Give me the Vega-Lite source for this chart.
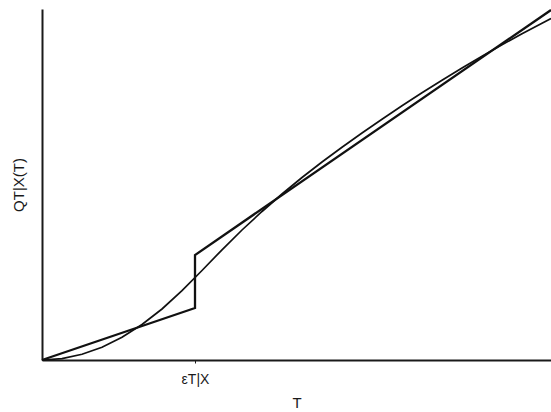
{
  "$schema": "https://vega.github.io/schema/vega-lite/v6.json",
  "width": 509,
  "height": 351,
  "autosize": {"type": "none"},
  "padding": {"left": 42, "top": 9, "right": 0, "bottom": 52},
  "background": "white",
  "config": {
    "view": {"stroke": null},
    "font": "Liberation Sans",
    "axis": {"grid": false, "domainColor": "#1a1a1a", "domainWidth": 2, "tickColor": "#1a1a1a", "labelColor": "#1a1a1a", "titleColor": "#1a1a1a", "titleFontWeight": "normal", "labelFont": "Liberation Sans", "titleFont": "Liberation Sans"}
  },
  "datasets": {
    "step": [
      {"i": 0, "t": 0, "q": 0},
      {"i": 1, "t": 153, "q": 52},
      {"i": 2, "t": 153, "q": 105},
      {"i": 3, "t": 509, "q": 350}
    ],
    "curve": [
      {"i": 0, "t": 0, "q": 0},
      {"i": 1, "t": 20, "q": 1.4},
      {"i": 2, "t": 40, "q": 5.7},
      {"i": 3, "t": 60, "q": 12.8},
      {"i": 4, "t": 80, "q": 22.7},
      {"i": 5, "t": 100, "q": 35.5},
      {"i": 6, "t": 120, "q": 51},
      {"i": 7, "t": 140, "q": 69.3},
      {"i": 8, "t": 160, "q": 89.5},
      {"i": 9, "t": 180, "q": 110.2},
      {"i": 10, "t": 200, "q": 130},
      {"i": 11, "t": 220, "q": 148.5},
      {"i": 12, "t": 240, "q": 166},
      {"i": 13, "t": 260, "q": 182.5},
      {"i": 14, "t": 280, "q": 198},
      {"i": 15, "t": 300, "q": 212.8},
      {"i": 16, "t": 320, "q": 227},
      {"i": 17, "t": 340, "q": 240.8},
      {"i": 18, "t": 360, "q": 254.2},
      {"i": 19, "t": 380, "q": 267.2},
      {"i": 20, "t": 400, "q": 279.8},
      {"i": 21, "t": 420, "q": 292},
      {"i": 22, "t": 440, "q": 303.8},
      {"i": 23, "t": 460, "q": 315.2},
      {"i": 24, "t": 480, "q": 326.2},
      {"i": 25, "t": 500, "q": 336.8},
      {"i": 26, "t": 509, "q": 341.5}
    ]
  },
  "layer": [
    {
      "data": {"name": "curve"},
      "mark": {"type": "line", "color": "#111111", "strokeWidth": 1.7, "clip": false},
      "encoding": {
        "x": {"field": "t", "type": "quantitative", "scale": {"domain": [0, 509], "nice": false, "zero": false},
          "axis": {"values": [153], "labelExpr": "'εT|X'", "tickSize": 3, "labelFontSize": 14, "labelPadding": 9, "title": "T", "titleFontSize": 15, "titlePadding": 9}},
        "y": {"field": "q", "type": "quantitative", "scale": {"domain": [0, 351], "nice": false, "zero": false},
          "axis": {"labels": false, "ticks": false, "title": "QT|X(T)", "titleFontSize": 15, "titlePadding": 16}},
        "order": {"field": "i", "type": "quantitative"}
      }
    },
    {
      "data": {"name": "step"},
      "mark": {"type": "line", "color": "#111111", "strokeWidth": 2.3, "clip": false, "strokeJoin": "miter"},
      "encoding": {
        "x": {"field": "t", "type": "quantitative"},
        "y": {"field": "q", "type": "quantitative"},
        "order": {"field": "i", "type": "quantitative"}
      }
    }
  ]
}
